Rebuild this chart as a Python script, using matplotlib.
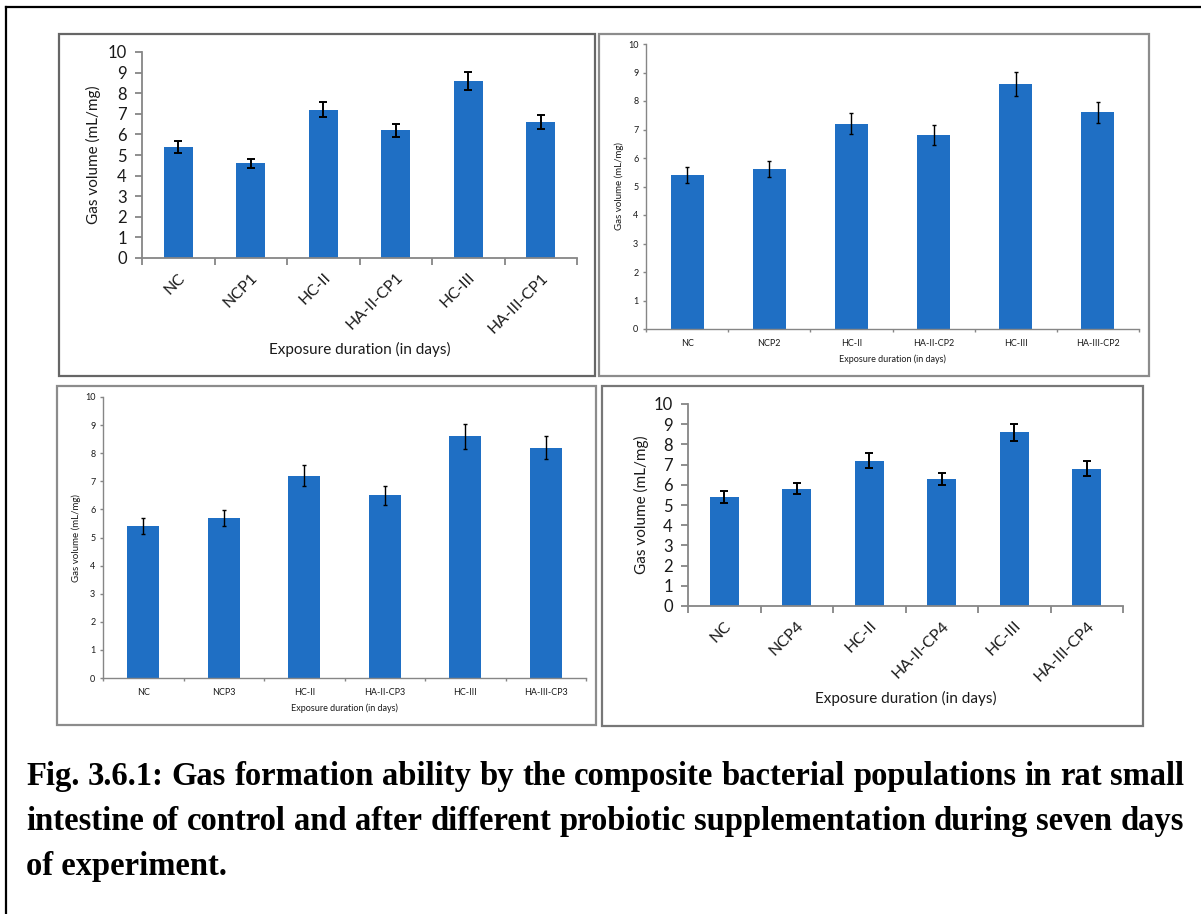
import matplotlib
matplotlib.use('Agg')
import matplotlib.pyplot as plt
from matplotlib.patches import Rectangle
from matplotlib.lines import Line2D
import numpy as np

W, H = 1201, 914
BLUE = '#1f6fc4'
plt.rcParams['font.family'] = ['Lato', 'DejaVu Sans']

# data
labels1 = ['NC', 'NCP1', 'HC-II', 'HA-II-CP1', 'HC-III', 'HA-III-CP1']
values1 = [5.4, 4.6, 7.2, 6.2, 8.6, 6.6]
errors1 = [0.30, 0.22, 0.36, 0.32, 0.44, 0.35]

labels2 = ['NC', 'NCP2', 'HC-II', 'HA-II-CP2', 'HC-III', 'HA-III-CP2']
values2 = [5.4, 5.6, 7.2, 6.8, 8.6, 7.6]
errors2 = [0.27, 0.28, 0.37, 0.35, 0.43, 0.38]

labels3 = ['NC', 'NCP3', 'HC-II', 'HA-II-CP3', 'HC-III', 'HA-III-CP3']
values3 = [5.4, 5.7, 7.2, 6.5, 8.6, 8.2]
errors3 = [0.29, 0.29, 0.38, 0.33, 0.44, 0.41]

labels4 = ['NC', 'NCP4', 'HC-II', 'HA-II-CP4', 'HC-III', 'HA-III-CP4']
values4 = [5.4, 5.8, 7.2, 6.3, 8.6, 6.8]
errors4 = [0.30, 0.28, 0.36, 0.30, 0.42, 0.36]

y_ticks = list(range(0, 11))
ylabel = 'Gas volume (mL/mg)'
xlabel = 'Exposure duration (in days)'

caption = ['Fig. 3.6.1: Gas formation ability by the composite bacterial populations in rat small',
           'intestine of control and after different probiotic supplementation during seven days',
           'of experiment.']


def fx(x):
    return x / W


def fy(y):
    return 1 - y / H


def draw_panel(fig, frame, axbox, labels, values, errors, big, ylab_x, xlab_y, edge):
    fig.add_artist(Rectangle((fx(frame[0]), fy(frame[3])),
                             (frame[2] - frame[0]) / W, (frame[3] - frame[1]) / H,
                             transform=fig.transFigure, fill=False,
                             edgecolor=edge, lw=1.6))
    ax = fig.add_axes([fx(axbox[0]), fy(axbox[3]),
                       (axbox[2] - axbox[0]) / W, (axbox[3] - axbox[1]) / H])
    x = np.arange(len(values)) + 0.5
    ax.bar(x, values, width=0.4, color=BLUE, zorder=2)
    if big:
        ax.errorbar(x, values, yerr=errors, fmt='none', ecolor='black',
                    elinewidth=1.4, capsize=3, capthick=1.4, zorder=3)
    else:
        ax.errorbar(x, values, yerr=errors, fmt='none', ecolor='black',
                    elinewidth=1.0, capsize=1.6, capthick=1.0, zorder=3)
    ax.set_xlim(0, 6)
    ax.set_ylim(0, 10)
    ax.set_yticks(y_ticks)
    ax.set_xticks(range(7))
    ax.set_xticklabels([])
    ax.set_xticks(x, minor=True)
    for s in ['top', 'right']:
        ax.spines[s].set_visible(False)
    for s in ['left', 'bottom']:
        ax.spines[s].set_color('#868686')
        ax.spines[s].set_linewidth(1.3 if big else 1.0)
    ax.patch.set_alpha(0)
    if big:
        ax.set_xticklabels(labels, minor=True, rotation=45, ha='right', va='top',
                           rotation_mode='anchor', fontsize=11.5, color='#1a1a1a')
        ax.tick_params(axis='x', which='minor', length=0, pad=9)
        ax.tick_params(axis='x', which='major', length=5, width=1.3, color='#868686')
        ax.tick_params(axis='y', length=5, width=1.3, color='#868686', pad=6,
                       labelsize=12, labelcolor='#1a1a1a')
        fs = 11
    else:
        ax.set_xticklabels(labels, minor=True, fontsize=6.5, color='#1a1a1a')
        ax.tick_params(axis='x', which='minor', length=0, pad=7)
        ax.tick_params(axis='x', which='major', length=2.5, width=1.0, color='#868686')
        ax.tick_params(axis='y', length=2.5, width=1.0, color='#868686', pad=3,
                       labelsize=6.5, labelcolor='#1a1a1a')
        fs = 6.5
    for t in ax.get_xticklines() + ax.get_yticklines():
        t.set_clip_on(False)
    fig.text(fx(ylab_x), fy((axbox[1] + axbox[3]) / 2), ylabel, rotation=90,
             ha='center', va='center', fontsize=fs if big else 7, color='#1a1a1a')
    fig.text(fx((axbox[0] + axbox[2]) / 2), fy(xlab_y), xlabel,
             ha='center', va='center', fontsize=fs if big else 6.5, color='#1a1a1a')
    return ax


fig = plt.figure(figsize=(W / 100, H / 100), dpi=100)

# outer border
fig.add_artist(Line2D([fx(6), fx(1201)], [fy(7), fy(7)], color='black', lw=1.6,
                      transform=fig.transFigure))
fig.add_artist(Line2D([fx(6), fx(6)], [fy(7), fy(914)], color='black', lw=1.6,
                      transform=fig.transFigure))

draw_panel(fig, (59, 34, 595, 376), (142, 52, 577, 258), labels1, values1, errors1, True, 93, 349, '#666666')
draw_panel(fig, (599, 34, 1149, 376), (646, 44, 1139, 329), labels2, values2, errors2, False, 619, 359, '#8c8c8c')
draw_panel(fig, (57, 386, 596, 725), (103, 397, 586, 678), labels3, values3, errors3, False, 76, 708, '#8c8c8c')
draw_panel(fig, (602, 386, 1143, 726), (688, 404, 1123, 606), labels4, values4, errors4, True, 641, 698, '#777777')

# caption, justified like the original
cap_font = dict(family='Liberation Serif', weight='bold', fontsize=23.5, color='black')
left, right = 26, 1184
baselines = [785, 830, 875]
renderer = fig.canvas.get_renderer()
for i, line in enumerate(caption):
    words = line.split(' ')
    if i == len(caption) - 1:
        fig.text(fx(left), fy(baselines[i]), line, ha='left', va='baseline', **cap_font)
        continue
    texts = [fig.text(0, 0, w, ha='left', va='baseline', **cap_font) for w in words]
    widths = [t.get_window_extent(renderer).width for t in texts]
    gap = (right - left - sum(widths)) / (len(words) - 1)
    xpos = left
    for t, w in zip(texts, widths):
        t.set_position((fx(xpos), fy(baselines[i])))
        xpos += w + gap

fig.savefig('out.png', dpi=100)
